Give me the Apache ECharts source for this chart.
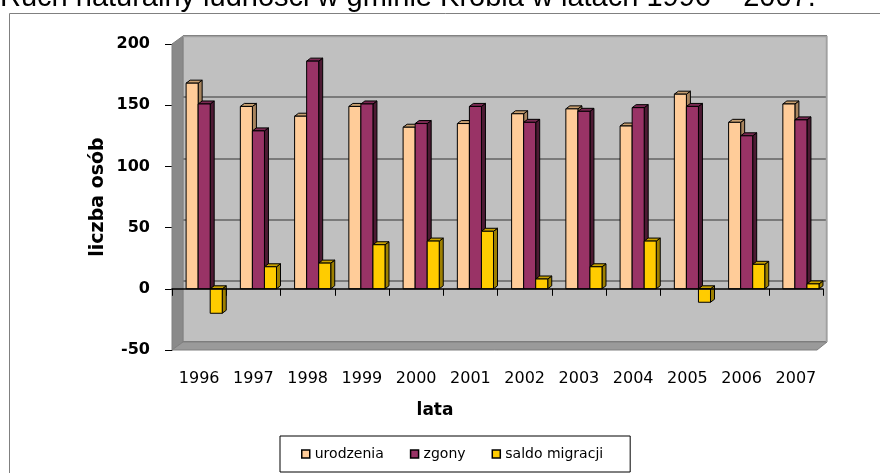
<!DOCTYPE html>
<html><head><meta charset="utf-8">
<script src="https://cdn.jsdelivr.net/npm/echarts@6/dist/echarts.min.js"></script>
<style>html,body{margin:0;padding:0;background:#fff}#c{width:880px;height:473px}</style>
</head><body><div id="c"></div><script>
var categories = ['1996','1997','1998','1999','2000','2001','2002','2003','2004','2005','2006','2007'];
var urodzenia = [168,149,141,149,132,135,143,147,133,159,136,151];
var zgony = [151,129,186,151,135,149,136,145,148,149,125,138];
var saldoMigracji = [-20,18,21,36,39,47,8,18,39,-11,20,4];
var seriesNames = ['urodzenia','zgony','saldo migracji'];
var yMin = -50, yMax = 200, yStep = 50;

function bar3d(slot, front, topC, sideC) {
  return function (params, api) {
    var i = api.value(0), v = api.value(1);
    var p0 = api.coord([i, 0]), p1 = api.coord([i, v]);
    var band = api.size([1, 0])[0];
    var w = band * 0.222;
    var x0 = p0[0] - band * 0.24 + slot * w;
    var yTop = Math.min(p0[1], p1[1]), yBot = Math.max(p0[1], p1[1]);
    var dx = 4, dy = 3;
    var st = {stroke:'#000', lineWidth:1};
    return {type:'group', children:[
      {type:'polygon', shape:{points:[[x0+w,yTop],[x0+w+dx,yTop-dy],[x0+w+dx,yBot-dy],[x0+w,yBot]]}, style:Object.assign({fill:sideC}, st)},
      {type:'polygon', shape:{points:[[x0,yTop],[x0+dx,yTop-dy],[x0+w+dx,yTop-dy],[x0+w,yTop]]}, style:Object.assign({fill:topC}, st)},
      {type:'rect', shape:{x:x0,y:yTop,width:w,height:yBot-yTop}, style:Object.assign({fill:front}, st)}
    ]};
  };
}
function toData(arr){ return arr.map(function(v,i){ return [i, v]; }); }

var chart = echarts.init(document.getElementById('c'));
var F = 'DejaVu Sans';
var gridTop = 44, gridBottom = 123, chartH = 473;
// distance from grid bottom up to the zero level (axis sits on zero)
var zeroOffset = -(chartH - gridBottom - gridTop) * (0 - yMin) / (yMax - yMin);
chart.setOption({
  animation:false,
  backgroundColor:'#fff',
  title:{text:'Ruch naturalny ludności w gminie Krobia w latach 1996 – 2007.', left:0, top:-17, padding:0,
    textStyle:{fontFamily:'Liberation Sans, Arial', fontWeight:'normal', fontSize:29, color:'#000'}},
  graphic:[
    {type:'rect', shape:{x:9.5,y:13.5,width:880,height:480}, style:{fill:'none', stroke:'#808080', lineWidth:1}, z:0},
    {type:'polygon', shape:{points:[[172,44],[183,36],[183,342],[172,350]]}, style:{fill:'#8a8a8a', stroke:'#808080'}, z:1},
    {type:'polygon', shape:{points:[[172,350],[183,342],[827,342],[817,350]]}, style:{fill:'#9a9a9a', stroke:'#808080'}, z:1},
    {type:'polyline', shape:{points:[[183,36.5],[826.5,36.5],[826.5,342]]}, style:{fill:'none', stroke:'#a0a0a0', lineWidth:1.5}, z:1}
  ],
  legend:{data:seriesNames, left:280, top:436, padding:[11,27,11,21], itemGap:26, itemWidth:8, itemHeight:8,
    icon:'rect', borderColor:'#000', borderWidth:1,
    textStyle:{fontFamily:F, fontSize:14, color:'#000'},
    itemStyle:{borderColor:'#000', borderWidth:1.5}},
  grid:[
    {left:172, right:57, top:gridTop, bottom:gridBottom, show:false, outerBoundsMode:'none', containLabel:false},
    {left:183, right:53, top:36, bottom:131, show:true, outerBoundsMode:'none', backgroundColor:'#C0C0C0', borderColor:'#9a9a9a', borderWidth:1, z:-1}
  ],
  xAxis:[
    {type:'category', gridIndex:0, data:categories, offset:zeroOffset, z:5,
      axisLine:{onZero:false, lineStyle:{color:'#000', width:1.5}},
      axisTick:{show:true, length:7, lineStyle:{color:'#000'}},
      axisLabel:{margin:82, fontFamily:F, fontSize:16, color:'#000'},
      splitLine:{show:false},
      name:'lata', nameLocation:'middle', nameGap:113,
      nameTextStyle:{fontFamily:F, fontWeight:'bold', fontSize:17, color:'#000', padding:[0,125,0,0]}},
    {type:'category', gridIndex:1, data:categories, show:false}
  ],
  yAxis:[
    {type:'value', gridIndex:0, min:yMin, max:yMax, interval:yStep,
      axisLine:{show:true, lineStyle:{color:'#000', width:1}},
      axisTick:{show:true, length:7, lineStyle:{color:'#000'}},
      axisLabel:{margin:22, fontFamily:F, fontWeight:'bold', fontSize:16, color:'#000'},
      splitLine:{show:false},
      name:'liczba osób', nameLocation:'middle', nameGap:64, nameMoveOverlap:false,
      nameTextStyle:{fontFamily:F, fontWeight:'bold', fontSize:19, color:'#000'}},
    {type:'value', gridIndex:1, min:yMin, max:yMax, interval:yStep,
      axisLine:{show:false}, axisTick:{show:false}, axisLabel:{show:false},
      splitLine:{show:true, lineStyle:{color:'#7a7a7a', width:2}}}
  ],
  series:[
    {name:seriesNames[0], type:'custom', xAxisIndex:0, yAxisIndex:0, renderItem:bar3d(0,'#FFCC99','#C9A070','#A8845E'),
      itemStyle:{color:'#FFCC99'}, encode:{x:0,y:1}, data:toData(urodzenia)},
    {name:seriesNames[1], type:'custom', xAxisIndex:0, yAxisIndex:0, renderItem:bar3d(1,'#993366','#7A2952','#4D1A33'),
      itemStyle:{color:'#993366'}, encode:{x:0,y:1}, data:toData(zgony)},
    {name:seriesNames[2], type:'custom', xAxisIndex:0, yAxisIndex:0, renderItem:bar3d(2,'#FFCC00','#C9A200','#9E8000'),
      itemStyle:{color:'#FFCC00'}, encode:{x:0,y:1}, data:toData(saldoMigracji)}
  ]
});
</script></body></html>
